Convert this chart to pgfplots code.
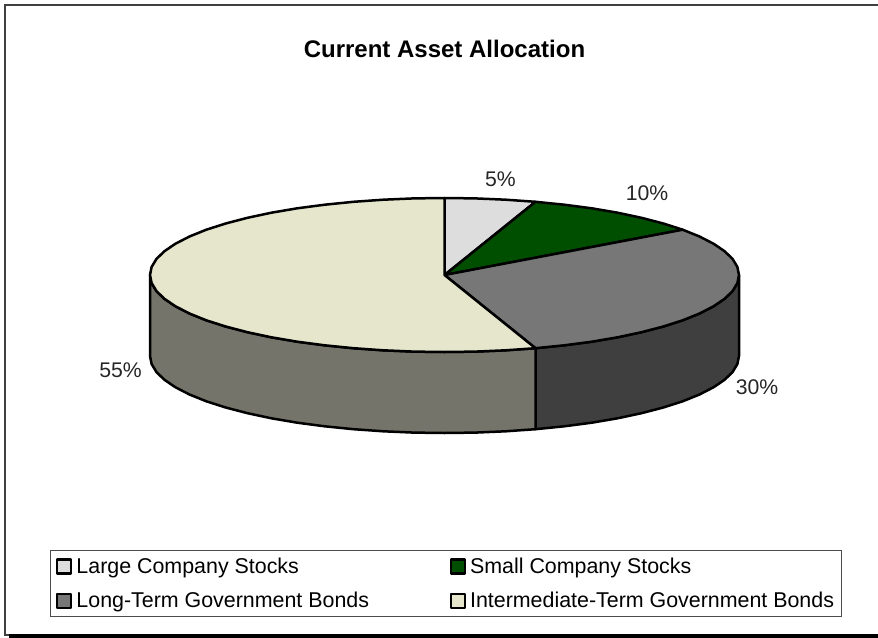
\documentclass[border=0pt]{standalone}
\usepackage{pgfplots}
\pgfplotsset{compat=1.18}
\usepackage{fontspec}
\setmainfont{Liberation Sans}
\definecolor{sliceA}{HTML}{DDDDDD}
\definecolor{sliceB}{HTML}{004F00}
\definecolor{sliceC}{HTML}{777777}
\definecolor{sliceD}{HTML}{E6E6CC}
\definecolor{sideC}{HTML}{3F3F3F}
\definecolor{sideD}{HTML}{74746A}
\begin{document}
\begin{tikzpicture}
\path[use as bounding box] (0,0) rectangle (878bp,638bp);
\begin{axis}[
  at={(0,0)}, anchor=south west,
  scale only axis, width=878bp, height=638bp,
  xmin=0, xmax=878, ymin=0, ymax=638, y dir=reverse,
  hide axis, clip=false,
  legend columns=2,
  legend cell align=left,
  legend image code/.code={\draw[#1,draw=black,line width=2.4bp] (0bp,-7bp) rectangle (14bp,7bp); \path (-1bp,0bp) (16bp,0bp);},
  legend style={
    at={(axis cs:49.5,550)}, anchor=north west,
    draw=black!70, line width=1bp,
    font=\fontsize{21.4bp}{24bp}\selectfont,
    inner xsep=5bp, inner ysep=5.5bp,
    /tikz/every even column/.append style={column sep=77.5bp},
    /tikz/row sep=13.5bp,
  },
]
% side walls
\addplot[forget plot, draw=black, line width=2.5bp, fill=sideC, line join=round] coordinates {
(739,275)(737.4,283)(732.6,291)(724.6,298.8)(713.5,306.3)(699.5,313.5)(682.7,320.3)(663.3,326.5)(641.5,332.2)(617.6,337.3)(591.75,341.7)(564.3,345.3)(535.5,348.2)
(535.5,429.2)(564.3,426.3)(591.75,422.7)(617.6,418.3)(641.5,413.2)(663.3,407.5)(682.7,401.3)(699.5,394.5)(713.5,387.3)(724.6,379.8)(732.6,372)(737.4,364)(739,356)
} -- cycle;
\addplot[forget plot, draw=black, line width=2.5bp, fill=sideD, line join=round] coordinates {
(535.5,348.2)(505.7,350.3)(475.3,351.6)(444.5,352)(413.7,351.6)(383.3,350.3)(353.5,348.2)(324.7,345.3)(297.25,341.7)(271.4,337.3)(247.5,332.2)(225.7,326.5)(206.3,320.3)(189.5,313.5)(175.5,306.3)(164.4,298.8)(156.4,291)(151.6,283)(150,275)
(150,356)(151.6,364)(156.4,372)(164.4,379.8)(175.5,387.3)(189.5,394.5)(206.3,401.3)(225.7,407.5)(247.5,413.2)(271.4,418.3)(297.25,422.7)(324.7,426.3)(353.5,429.2)(383.3,431.3)(413.7,432.6)(444.5,433)(475.3,432.6)(505.7,431.3)(535.5,429.2)
} -- cycle;
% top slices
\addplot[draw=black, line width=2.5bp, fill=sliceA, line join=round] coordinates {
(444.5,275)(444.5,198)(475.3,198.4)(505.7,199.7)(535.5,201.8)
} -- cycle;
\addlegendentry{Large Company Stocks}
\addplot[draw=black, line width=2.5bp, fill=sliceB, line join=round] coordinates {
(444.5,275)(535.5,201.8)(564.3,204.7)(591.75,208.3)(617.6,212.7)(641.5,217.8)(663.3,223.5)(682.7,229.7)
} -- cycle;
\addlegendentry{Small Company Stocks}
\addplot[draw=black, line width=2.5bp, fill=sliceC, line join=round] coordinates {
(444.5,275)(682.7,229.7)(699.5,236.5)(713.5,243.7)(724.6,251.2)(732.6,259)(737.4,267)(739,275)(737.4,283)(732.6,291)(724.6,298.8)(713.5,306.3)(699.5,313.5)(682.7,320.3)(663.3,326.5)(641.5,332.2)(617.6,337.3)(591.75,341.7)(564.3,345.3)(535.5,348.2)
} -- cycle;
\addlegendentry{Long-Term Government Bonds}
\addplot[draw=black, line width=2.5bp, fill=sliceD, line join=round] coordinates {
(444.5,275)(535.5,348.2)(505.7,350.3)(475.3,351.6)(444.5,352)(413.7,351.6)(383.3,350.3)(353.5,348.2)(324.7,345.3)(297.25,341.7)(271.4,337.3)(247.5,332.2)(225.7,326.5)(206.3,320.3)(189.5,313.5)(175.5,306.3)(164.4,298.8)(156.4,291)(151.6,283)(150,275)(151.6,267)(156.4,259)(164.4,251.2)(175.5,243.7)(189.5,236.5)(206.3,229.7)(225.7,223.5)(247.5,217.8)(271.4,212.7)(297.25,208.3)(324.7,204.7)(353.5,201.8)(383.3,199.7)(413.7,198.4)(444.5,198)
} -- cycle;
\addlegendentry{Intermediate-Term Government Bonds}
% chart frame
\draw[black!75,line width=2bp] (axis cs:878,5) -- (axis cs:4.5,5) -- (axis cs:4.5,634.5) -- (axis cs:9,634.5);
\draw[black,line width=4bp] (axis cs:9,636) -- (axis cs:878,636);
% text
\node[font=\fontsize{24bp}{26bp}\selectfont\bfseries] at (axis cs:444.5,49) {Current Asset Allocation};
\node[font=\fontsize{21.2bp}{24bp}\selectfont,text=black!85] at (axis cs:500.5,179) {5\%};
\node[font=\fontsize{21.2bp}{24bp}\selectfont,text=black!85] at (axis cs:647,193) {10\%};
\node[font=\fontsize{21.2bp}{24bp}\selectfont,text=black!85] at (axis cs:757,387) {30\%};
\node[font=\fontsize{21.2bp}{24bp}\selectfont,text=black!85] at (axis cs:120.5,370) {55\%};
\end{axis}
\end{tikzpicture}
\end{document}
